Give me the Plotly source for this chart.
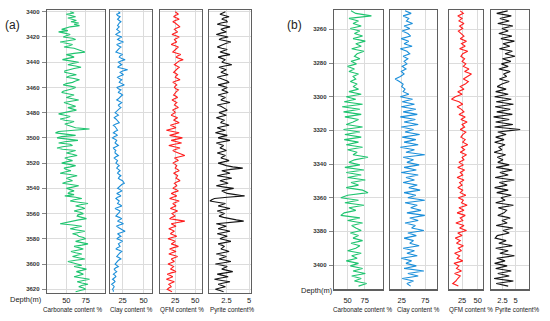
import plotly.graph_objects as go

W, H = 550, 321

# ---------------- Panel (a) data: depth every 1 m ----------------
depth_a = list(range(3400, 3623))

carbonate_a = [55, 60, 50, 57, 62, 52, 58, 63, 56, 66, 60, 67, 55, 48, 44, 52,
               40, 48, 55, 50, 46, 58, 62, 52, 42, 50, 58, 54, 47, 60, 64, 70,
               74, 60, 50, 56, 60, 52, 45, 55, 66, 58, 52, 62, 69, 60, 55, 48,
               48, 56, 63, 54, 50, 60, 67, 62, 58, 50, 46, 55, 62, 58, 52, 46,
               44, 52, 60, 55, 50, 58, 66, 56, 47, 52, 58, 62, 52, 58, 63, 55,
               45, 40, 48, 55, 50, 42, 48, 60, 55, 48, 52, 58, 62, 80, 52, 40,
               36, 50, 62, 44, 38, 52, 65, 48, 40, 55, 58, 45, 38, 45, 62, 56,
               50, 58, 64, 55, 48, 52, 58, 50, 44, 54, 62, 55, 47, 50, 56, 48,
               42, 55, 64, 56, 50, 54, 58, 50, 45, 56, 66, 58, 50, 55, 60, 54,
               52, 60, 48, 62, 70, 60, 55, 66, 78, 68, 62, 70, 74, 66, 60, 68,
               72, 65, 64, 70, 76, 66, 58, 50, 42, 58, 70, 62, 55, 64, 74, 66,
               58, 64, 66, 72, 75, 68, 62, 70, 78, 70, 60, 66, 72, 64, 56, 62,
               70, 64, 58, 66, 74, 62, 52, 58, 65, 70, 60, 68, 76, 70, 63, 68,
               72, 66, 60, 70, 80, 72, 64, 70, 78, 70, 66, 72, 75, 68, 62]

clay_a = [20, 22, 18, 19, 22, 20, 19, 21, 23, 21, 20, 19, 21, 20, 18, 20,
          22, 19, 17, 20, 24, 21, 19, 22, 26, 22, 18, 20, 23, 21, 20, 18,
          17, 21, 25, 22, 21, 24, 28, 23, 20, 22, 24, 21, 19, 25, 31, 25,
          22, 24, 26, 22, 19, 21, 24, 22, 21, 24, 27, 22, 18, 20, 23, 21,
          20, 23, 25, 23, 22, 20, 18, 21, 24, 22, 20, 21, 23, 21, 19, 18,
          16, 18, 20, 17, 15, 17, 18, 20, 21, 17, 14, 16, 17, 18, 19, 16,
          14, 17, 19, 15, 13, 16, 18, 17, 16, 18, 20, 17, 14, 15, 17, 16,
          16, 18, 20, 17, 15, 17, 19, 18, 17, 19, 21, 19, 18, 20, 22, 20,
          19, 21, 23, 21, 20, 22, 25, 26, 27, 24, 22, 20, 19, 22, 24, 21,
          18, 21, 23, 19, 17, 19, 21, 20, 19, 22, 24, 20, 16, 19, 22, 21,
          20, 18, 17, 21, 24, 21, 19, 23, 26, 21, 18, 20, 22, 25, 28, 22,
          19, 21, 23, 20, 18, 22, 25, 22, 20, 21, 22, 19, 17, 21, 24, 22,
          21, 19, 18, 21, 23, 20, 19, 17, 16, 18, 20, 17, 15, 16, 18, 16,
          14, 16, 17, 15, 13, 15, 16, 14, 12, 14, 15, 14, 13, 14, 14]

qfm_a = [25, 27, 29, 25, 23, 27, 30, 25, 22, 25, 27, 29, 31, 27, 24, 26,
         28, 24, 21, 26, 30, 27, 24, 25, 27, 23, 20, 25, 29, 27, 25, 23,
         22, 27, 32, 28, 26, 30, 35, 30, 28, 25, 24, 27, 30, 28, 26, 24,
         23, 26, 28, 26, 25, 28, 31, 26, 22, 25, 27, 25, 24, 26, 29, 27,
         26, 24, 23, 26, 28, 24, 21, 24, 27, 25, 24, 27, 29, 25, 22, 24,
         25, 22, 20, 24, 28, 25, 23, 27, 30, 24, 19, 23, 26, 20, 14, 22,
         30, 24, 18, 26, 34, 27, 20, 27, 33, 24, 17, 24, 31, 26, 22, 25,
         28, 33, 37, 30, 24, 27, 29, 25, 22, 25, 27, 26, 25, 28, 30, 26,
         23, 26, 28, 27, 26, 29, 31, 27, 24, 26, 27, 24, 22, 26, 29, 24,
         20, 24, 27, 22, 18, 24, 30, 26, 22, 24, 26, 22, 19, 24, 28, 24,
         21, 23, 25, 21, 18, 27, 37, 28, 20, 23, 26, 21, 17, 21, 24, 21,
         19, 23, 27, 21, 16, 21, 25, 23, 20, 25, 29, 23, 18, 22, 26, 21,
         17, 23, 28, 24, 20, 22, 24, 20, 16, 20, 23, 21, 19, 23, 26, 20,
         15, 19, 22, 18, 14, 19, 24, 20, 17, 19, 20, 17, 15, 18, 21]

pyrite_a = [2.4, 2.0, 1.8, 2.3, 2.8, 2.2, 2.0, 2.5, 2.6, 1.9, 1.5, 2.2, 2.9, 2.3, 1.9, 2.2,
            2.5, 1.9, 1.4, 2.1, 2.7, 2.0, 1.7, 2.4, 3.0, 2.5, 2.1, 1.8, 1.5, 2.0, 2.6, 2.2,
            1.8, 2.4, 2.9, 2.1, 1.6, 2.0, 2.4, 2.2, 2.0, 2.6, 3.1, 2.3, 1.7, 2.1, 2.5, 2.2,
            1.9, 2.3, 2.7, 2.0, 1.5, 1.9, 2.3, 2.6, 2.8, 2.1, 1.6, 2.1, 2.6, 2.3, 2.0, 2.4,
            2.7, 2.1, 1.6, 2.0, 2.4, 2.1, 1.9, 2.4, 2.9, 2.2, 1.5, 1.9, 2.2, 2.4, 2.6, 2.1,
            1.7, 2.1, 2.5, 1.9, 1.4, 1.9, 2.3, 2.0, 1.9, 2.4, 2.8, 2.1, 1.5, 1.9, 2.4, 1.8,
            1.3, 2.0, 2.6, 2.0, 1.6, 2.3, 2.9, 2.1, 1.4, 1.8, 2.2, 2.0, 1.8, 2.2, 2.5, 2.0,
            1.5, 2.0, 2.4, 2.1, 1.9, 2.4, 2.8, 2.2, 1.6, 2.1, 2.5, 3.2, 4.3, 3.0, 2.0, 2.5,
            2.9, 2.1, 1.5, 2.4, 3.1, 2.3, 1.8, 2.3, 2.7, 2.0, 1.4, 2.3, 3.3, 2.6, 2.0, 2.3,
            2.6, 3.5, 4.5, 2.6, 1.2, 0.9, 0.7, 1.5, 2.4, 2.0, 1.6, 2.3, 2.9, 2.1, 1.5, 1.9,
            2.3, 2.0, 1.7, 2.2, 2.8, 3.6, 4.4, 2.6, 1.4, 2.0, 2.5, 2.0, 1.6, 2.3, 2.9, 2.2,
            1.5, 2.1, 2.6, 2.1, 1.8, 2.4, 3.0, 2.3, 1.6, 2.0, 2.3, 2.1, 1.9, 2.4, 2.8, 2.1,
            1.4, 2.0, 2.5, 2.1, 1.7, 2.4, 3.0, 2.2, 1.3, 2.0, 2.6, 2.3, 2.0, 2.6, 3.2, 2.4,
            1.5, 2.1, 2.7, 1.9, 1.2, 2.0, 2.9, 2.2, 1.6, 2.0, 2.4, 1.8, 1.3, 1.8, 2.2]

# ---------------- Panel (b) data: depth every 1.5 m ----------------
depth_b = [3249 + 1.5 * i for i in range(110)]

carbonate_b = [55, 62, 85, 52, 66, 58, 70, 54, 68, 60,
               72, 58, 76, 62, 70, 56, 74, 64, 60, 68,
               55, 63, 50, 60, 52, 66, 58, 62, 54, 64,
               58, 66, 52, 70, 48, 62, 45, 72, 42, 68,
               44, 70, 46, 66, 58, 48, 72, 44, 68, 46,
               70, 45, 66, 48, 72, 50, 64, 58, 80, 60,
               52, 68, 46, 74, 48, 70, 50, 76, 55, 66,
               48, 72, 80, 50, 40, 66, 46, 74, 52, 62,
               45, 40, 68, 50, 72, 56, 62, 70, 54, 66,
               58, 72, 55, 68, 62, 50, 70, 56, 64, 48,
               66, 54, 72, 58, 76, 56, 70, 60, 78, 66]

clay_b = [32, 45, 28, 40, 35, 48, 30, 42, 26, 38,
          44, 24, 40, 30, 47, 22, 36, 42, 28, 38,
          30, 36, 26, 34, 24, 30, 22, 11, 20, 28,
          25, 32, 28, 40, 22, 48, 26, 52, 24, 55,
          28, 58, 22, 54, 30, 60, 24, 50, 32, 63,
          26, 55, 30, 60, 22, 52, 34, 74, 28, 50,
          36, 62, 30, 56, 24, 60, 34, 52, 28, 58,
          40, 64, 30, 55, 38, 74, 32, 58, 44, 66,
          36, 74, 42, 60, 32, 54, 46, 72, 38, 56,
          30, 50, 42, 62, 28, 52, 36, 58, 24, 46,
          34, 56, 30, 72, 38, 60, 26, 50, 36, 44]

qfm_b = [22, 27, 18, 25, 20, 28, 21, 26, 19, 24,
         28, 22, 32, 24, 30, 21, 34, 26, 23, 29,
         25, 31, 27, 36, 29, 40, 33, 27, 35, 30,
         22, 28, 18, 25, 14, 8, 20, 26, 17, 24,
         28, 20, 30, 23, 33, 25, 29, 22, 31, 26,
         23, 30, 26, 34, 24, 29, 22, 32, 25, 28,
         20, 27, 18, 29, 22, 26, 17, 28, 21, 25,
         18, 26, 22, 31, 19, 27, 24, 33, 20, 28,
         17, 30, 22, 26, 15, 28, 21, 32, 18, 25,
         14, 22, 16, 27, 19, 24, 13, 21, 17, 26,
         12, 20, 16, 24, 13, 22, 18, 15, 10, 19]

pyrite_b = [3.5, 1.4, 4.2, 2.0, 3.8, 1.6, 4.5, 2.4, 3.6, 1.8,
            4.3, 2.2, 4.8, 2.6, 3.9, 1.9, 4.4, 3.0, 4.9, 2.5,
            4.1, 2.3, 3.6, 1.8, 4.0, 2.7, 3.3, 1.9, 3.8, 2.4,
            1.5, 3.2, 1.2, 3.6, 1.0, 4.2, 1.3, 4.6, 1.1, 4.0,
            1.4, 4.4, 0.8, 3.8, 1.2, 4.5, 1.0, 5.9, 1.6, 3.2,
            1.2, 2.8, 1.0, 3.0, 1.8, 2.4, 0.9, 3.1, 1.5, 2.6,
            1.6, 3.8, 1.3, 4.4, 2.0, 3.6, 1.1, 4.8, 1.9, 3.4,
            1.0, 3.6, 1.4, 4.2, 2.2, 3.0, 1.2, 4.6, 1.7, 3.3,
            2.8, 1.6, 4.0, 2.4, 3.4, 1.3, 4.5, 2.6, 3.8, 1.5,
            1.1, 3.2, 1.8, 4.4, 1.2, 3.6, 2.0, 4.8, 1.4, 3.0,
            1.0, 3.4, 1.2, 4.2, 1.6, 3.8, 0.9, 4.6, 1.3, 3.6]

track_titles = ["Carbonate content %", "Clay content %", "QFM content %", "Pyrite content%"]
depth_ticks_a = list(range(3400, 3621, 20))
depth_ticks_b = list(range(3260, 3401, 20))

colors = ["#1fc46f", "#1b8fda", "#ff1f1f", "#151515"]
FONT = "Liberation Sans, Arial, sans-serif"

# ---------------- layout geometry (pixels) ----------------
tracks = [
    (47, 105, [25, 100], [50, 75], ["50", "75"], carbonate_a, depth_a, "a"),
    (110, 152, [10, 60], [25, 50], ["25", "50"], clay_a, depth_a, "a"),
    (160, 202, [6, 58.5], [25, 50], ["25", "50"], qfm_a, depth_a, "a"),
    (209, 251, [0.6, 5.2], [2.5, 5], ["2.5", "5"], pyrite_a, depth_a, "a"),
    (334, 383, [30, 102], [50, 75], ["50", "75"], carbonate_b, depth_b, "b"),
    (390, 437, [0, 100], [25, 75], ["25", "75"], clay_b, depth_b, "b"),
    (449, 483, [4, 58.5], [25, 50], ["25", "50"], qfm_b, depth_b, "b"),
    (491, 529, [0.3, 7.6], [2.5, 5], ["2.5", "5"], pyrite_b, depth_b, "b"),
]
ygeom = {"a": (10, 292.7, [3622.7, 3398.65]), "b": (10, 289.3, [3414.4, 3248.5])}
title_centers = [73, 131.5, 181.5, 232, 363, 418, 471, 517]

fig = go.Figure()
layout = dict(width=W, height=H, margin=dict(l=0, r=0, t=0, b=0),
              paper_bgcolor="white", plot_bgcolor="white", showlegend=False,
              hovermode=False, font=dict(family=FONT, color="#222"))
annotations = []

for i, (x0, x1, xr, tv, tt, vals, dep, panel) in enumerate(tracks):
    n = i + 1
    xs = "" if n == 1 else str(n)
    y0, y1, yr = ygeom[panel]
    fig.add_trace(go.Scatter(x=vals, y=dep, mode="lines",
                             line=dict(color=colors[i % 4], width=1.1),
                             xaxis="x" + xs, yaxis="y" + xs, hoverinfo="skip"))
    first = (i % 4 == 0)
    layout["xaxis" + xs] = dict(
        domain=[x0 / W, x1 / W], range=xr, anchor="y" + xs,
        tickvals=tv, ticktext=tt, ticks="", showgrid=True, gridcolor="#dcdcdc",
        gridwidth=1, zeroline=False, showline=True, linecolor="#5f5f5f",
        linewidth=1.3, mirror=True, tickfont=dict(size=7.5, color="#222"),
        ticklabelstandoff=(0 if panel == "a" else 3))
    layout["yaxis" + xs] = dict(
        domain=[1 - y1 / H, 1 - y0 / H], range=yr, anchor="x" + xs,
        tickvals=(depth_ticks_a if panel == "a" else depth_ticks_b),
        showticklabels=first, ticks=("outside" if first else ""), ticklen=4,
        tickcolor="#888", showgrid=True, gridcolor="#dcdcdc", gridwidth=1,
        zeroline=False, showline=True, linecolor="#5f5f5f", linewidth=1.3,
        mirror=True, tickfont=dict(size=6, color="#333", weight="bold"),
        ticklabelstandoff=1)
    if not first:
        layout["yaxis" + xs]["matches"] = "y" if panel == "a" else "y5"
    annotations.append(dict(x=title_centers[i] / W, y=1 - 309.5 / H, xref="paper",
                            yref="paper", text=track_titles[i % 4], showarrow=False,
                            font=dict(size=6.3, color="#222"), xanchor="center",
                            yanchor="middle"))

annotations += [
    dict(x=12 / W, y=1 - 25 / H, xref="paper", yref="paper", text="(a)",
         showarrow=False, font=dict(size=12, color="#222"), xanchor="center", yanchor="middle"),
    dict(x=294 / W, y=1 - 25 / H, xref="paper", yref="paper", text="(b)",
         showarrow=False, font=dict(size=12, color="#222"), xanchor="center", yanchor="middle"),
    dict(x=26 / W, y=1 - 299 / H, xref="paper", yref="paper", text="Depth(m)",
         showarrow=False, font=dict(size=7.5, color="#222"), xanchor="center", yanchor="middle"),
    dict(x=317 / W, y=1 - 290.5 / H, xref="paper", yref="paper", text="Depth(m)",
         showarrow=False, font=dict(size=7.5, color="#222"), xanchor="center", yanchor="middle"),
]
layout["annotations"] = annotations
fig.update_layout(**layout)
fig.write_html("out.html", config={"displayModeBar": False, "staticPlot": True},
               post_script="document.body.style.margin='0';document.body.style.overflow='hidden';")
